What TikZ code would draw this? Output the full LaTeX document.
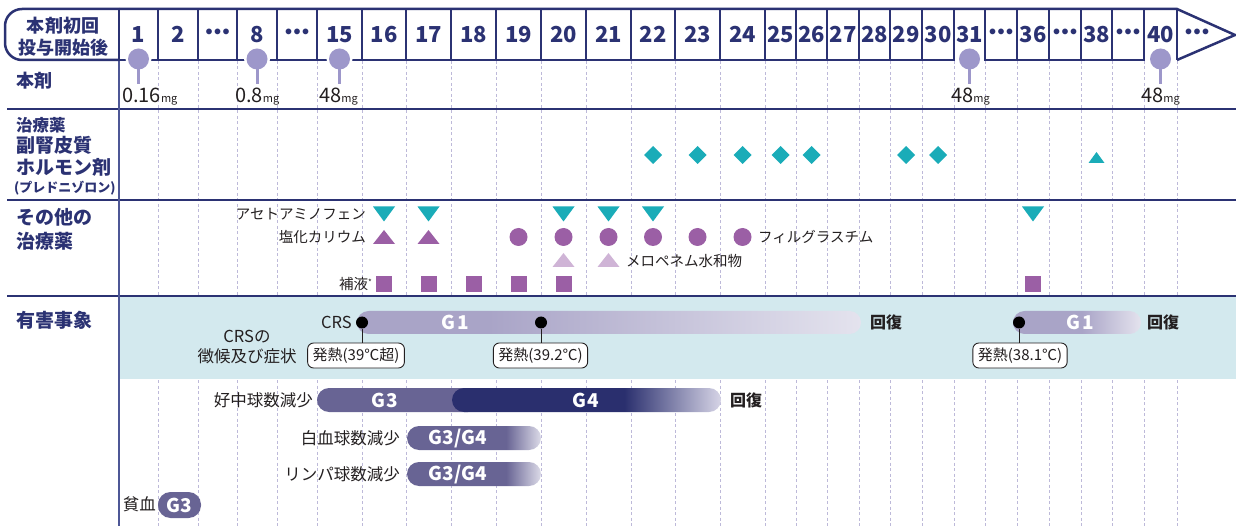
\documentclass[tikz,border=0pt]{standalone}
\usepackage{fontspec}
\setmainfont{Noto Sans CJK JP}
\newfontfamily\lat{Liberation Sans}
\definecolor{navy}{HTML}{2B3273}
\definecolor{cleft}{HTML}{4E5796}
\definecolor{cdash}{HTML}{BDB9D9}
\definecolor{lolli}{HTML}{9D97CA}
\definecolor{cteal}{HTML}{1AACB8}
\definecolor{cpurple}{HTML}{9B5FA5}
\definecolor{clight}{HTML}{CFB4D6}
\definecolor{cband}{HTML}{D3E9EE}
\definecolor{dark}{HTML}{231F20}
\definecolor{gOneA}{HTML}{A9A4C7}
\definecolor{gOneB}{HTML}{E4E3EE}
\definecolor{cgthree}{HTML}{686494}
\definecolor{gThreeB}{HTML}{DCDBE8}
\definecolor{cgfour}{HTML}{2A2F6E}
\definecolor{gFourB}{HTML}{D6D4E6}
\pgfdeclarehorizontalshading{shGone}{100bp}{color(0bp)=(gOneA); color(38bp)=(gOneA); color(75bp)=(gOneB); color(100bp)=(gOneB)}
\pgfdeclarehorizontalshading{shGoneR}{100bp}{color(0bp)=(gOneA); color(52bp)=(gOneA); color(75bp)=(gOneB); color(100bp)=(gOneB)}
\pgfdeclarehorizontalshading{shGfour}{100bp}{color(0bp)=(cgfour); color(57bp)=(cgfour); color(75bp)=(gFourB); color(100bp)=(gFourB)}
\pgfdeclarehorizontalshading{shGthree}{100bp}{color(0bp)=(cgthree); color(62bp)=(cgthree); color(75bp)=(gThreeB); color(100bp)=(gThreeB)}
\newcommand{\fsz}[1]{\fontsize{#1}{#1}\selectfont}
\tikzset{
  hline/.style={draw=navy, line width=2.5},
  hnum/.style={font=\bfseries\fsz{22}, text=navy, inner sep=0, anchor=base},
  hdots/.style={font=\lat\bfseries\fsz{20}, text=navy, inner sep=0},
  lab/.style={font=\bfseries\fsz{19}, text=navy, anchor=west, inner sep=0},
  drug/.style={font=\fsz{14.5}, text=dark, inner sep=0},
  ev/.style={font=\fsz{16.5}, text=dark, inner sep=0},
  rec/.style={font=\bfseries\fsz{16}, text=dark, inner sep=0, anchor=west},
  gtxt/.style={font=\bfseries\fsz{19}, text=white, inner sep=0},
  dose/.style={font=\fsz{20}, text=dark, inner sep=0, anchor=base west},
  fbox/.style={draw=dark, line width=0.9, fill=white, rounded corners=6, minimum height=25, inner xsep=5, inner ysep=0, font=\fsz{15}, text=dark},
  bdot/.style={circle, fill=black, inner sep=0, minimum size=12},
  dashline/.style={draw=cdash, line width=0.8, dash pattern=on 3pt off 2.5pt},
  tdown/.pic={\fill[cteal] (-11,-7.5) -- (11,-7.5) -- (0,7.5) -- cycle;},
  tup/.pic={\fill[cpurple] (-11,7) -- (11,7) -- (0,-7) -- cycle;},
  tlight/.pic={\fill[clight] (-11,7) -- (11,7) -- (0,-7) -- cycle;},
  tsmall/.pic={\fill[cteal] (-8,5.5) -- (8,5.5) -- (0,-5.5) -- cycle;},
  pdot/.pic={\fill[cpurple] (0,0) circle (9);},
  psq/.pic={\fill[cpurple] (-8,-8) rectangle (8,8);},
  pdia/.pic={\fill[cteal] (-9,0) -- (0,-9) -- (9,0) -- (0,9) -- cycle;},
}
\begin{document}
\begin{tikzpicture}[x=1pt,y=-1pt]
\useasboundingbox (0,0) rectangle (1236,526);
% band
\fill[cband] (120,297.5) rectangle (1236,379);
% dashed grid
\foreach \x in {158,198,237,277,317,362,406,451,496,541,586,631,675,720,765,796,827,859,890,922,954,985,1017,1049,1081,1112,1144,1177}
  \draw[dashline] (\x,61) -- (\x,295) (\x,380) -- (\x,526);
% horizontal rules
\draw[navy, line width=2.6] (7,109) -- (1236,109);
\draw[navy, line width=1.8] (7,200) -- (1236,200);
\draw[navy, line width=2.6] (7,296) -- (1236,296);
\draw[cleft, line width=2] (119,60) -- (119,526);
% header outline
\draw[hline, rounded corners=17] (119,9) -- (5,9) -- (5,60) -- (119,60);
\draw[hline, line join=miter] (119,9) -- (1177,9) -- (1235,35) -- (1177,60);
\draw[hline] (118,60) -- (955,60) (984,60) -- (1145,60);
\foreach \x in {119,158,198,237,277,317,362,406,451,496,541,586,631,675,720,765,796,827,859,890,922,954,985,1017,1049,1081,1112,1144,1177}
  \draw[hline] (\x,9) -- (\x,60);
\node[font=\bfseries\fsz{18}, text=navy, inner sep=0] (t1) at (63,26) {本剤初回};
\node[font=\bfseries\fsz{18}, text=navy, inner sep=0] (t2) at (63,47.5) {投与開始後};
\foreach \l/\r/\t [count=\i] in {119/158/1,158/198/2,237/277/8,317/362/15,362/406/16,406/451/17,451/496/18,496/541/19,541/586/20,586/631/21,631/675/22,675/720/23,720/765/24,765/796/25,796/827/26,827/859/27,859/890/28,890/922/29,922/954/30,954/985/31,1017/1049/36,1081/1112/38,1144/1177/40}
  \node[hnum] (h\i) at ({(\l+\r)/2},42.5) {\t};
\foreach \x [count=\i] in {217.5,297,1001,1065,1128,1197}
  \node[hdots] (hd\i) at (\x,34) {•\kern1.5pt•\kern1.5pt•};
% lollipops
\foreach \x in {138.5,257,339.5,969.5,1160.5} {
  \fill[white] (\x,59) circle (13);
  \draw[lolli, line width=3] (\x,59) -- (\x,84);
  \fill[lolli] (\x,59) circle (10.5);
}
\node[dose] (d1) at (122,102.5) {0.16{\fsz{11}mg}};
\node[dose] (d2) at (235,102.5) {0.8{\fsz{11}mg}};
\node[dose] (d3) at (319,102.5) {48{\fsz{11}mg}};
\node[dose] (d4) at (951,102.5) {48{\fsz{11}mg}};
\node[dose] (d5) at (1141,102.5) {48{\fsz{11}mg}};
% left labels
\node[lab, font=\bfseries\fsz{18}] (l1) at (16,81) {本剤};
\node[lab, font=\bfseries\fsz{16.5}] (l2) at (16,125) {治療薬};
\node[lab] (l3) at (16,145) {副腎皮質};
\node[lab] (l4) at (16,167) {ホルモン剤};
\node[lab, font=\bfseries\fsz{13}] (l5) at (14,188) {(プレドニゾロン)};
\node[lab] (l6) at (16,217) {その他の};
\node[lab] (l7) at (16,241) {治療薬};
\node[lab] (l8) at (16,320) {有害事象};
% steroid row
\foreach \x in {653,697.5,742.5,780.5,811.5,906,938}
  \pic at (\x,155) {pdia};
\pic at (1096.5,157.5) {tsmall};
% other drugs
\foreach \x in {384,428.5,563.5,608.5,653,1033}
  \pic at (\x,214) {tdown};
\foreach \x in {384,428.5}
  \pic at (\x,237) {tup};
\foreach \x in {518.5,563.5,608.5,653,697.5,742.5}
  \pic at (\x,237) {pdot};
\foreach \x in {563.5,608.5}
  \pic at (\x,260) {tlight};
\foreach \x in {384,428.5,473.5,518.5,563.5,1033}
  \pic at (\x,284) {psq};
\node[drug, anchor=east] (a1) at (366,214) {アセトアミノフェン};
\node[drug, anchor=east] (a2) at (366,237) {塩化カリウム};
\node[drug, anchor=east] (a3) at (372,284) {補液\raisebox{4pt}{\fsz{8}*}};
\node[drug, anchor=west] (a4) at (758,237) {フィルグラスチム};
\node[drug, anchor=west] (a5) at (626,261) {メロペネム水和物};
% CRS
\path[shading=shGone, rounded corners=11.5] (357,311) rectangle (861,334);
\path[shading=shGoneR, rounded corners=11.5] (1013,311) rectangle (1141,334);
\node[gtxt] (g1a) at (455,322.5) {G\kern2pt1};
\node[gtxt] (g1b) at (1080,322.5) {G\kern2pt1};
\node[ev, anchor=east] (crs) at (352,322.5) {CRS};
\node[ev, align=center, font=\fsz{16.5}] (crsl) at (247,347) {CRSの\\[3pt]徴候及び症状};
\node[bdot] (p1) at (362,322.5) {};
\node[bdot] (p2) at (541,322.5) {};
\node[bdot] (p3) at (1019,322.5) {};
\node[fbox] (b1) at (356,355.5) {発熱(39℃超)};
\node[fbox] (b2) at (540.5,355.5) {発熱(39.2℃)};
\node[fbox] (b3) at (1020,355.5) {発熱(38.1℃)};
\draw[dark, line width=0.9] (p1) -- (p1 |- b1.north);
\draw[dark, line width=0.9] (p2) -- (p2 |- b2.north);
\draw[dark, line width=0.9] (p3) -- (p3 |- b3.north);
\node[rec] (r1) at (870,322.5) {回復};
\node[rec] (r2) at (1147,322.5) {回復};
% blood
\fill[cgthree, rounded corners=12] (317,388) rectangle (480,412);
\path[shading=shGfour, rounded corners=12] (452,388) rectangle (721,412);
\node[gtxt] (n3) at (385,400.5) {G\kern1pt3};
\node[gtxt] (n4) at (586,400.5) {G\kern1pt4};
\node[rec] (r3) at (730,400.5) {回復};
\node[ev, anchor=east] (e1) at (313,400) {好中球数減少};
\path[shading=shGthree, rounded corners=12] (407,426) rectangle (541,450);
\node[gtxt] (w1) at (458,438.5) {G3/G4};
\node[ev, anchor=east] (e2) at (400,438) {白血球数減少};
\path[shading=shGthree, rounded corners=12] (407,462) rectangle (541,486);
\node[gtxt] (w2) at (458,474.5) {G3/G4};
\node[ev, anchor=east] (e3) at (400,474) {リンパ球数減少};
\fill[cgthree, rounded corners=12.5] (158,492) rectangle (201,518);
\node[gtxt] (w3) at (179.5,505.5) {G3};
\node[ev, anchor=east] (e4) at (156,504) {貧血};
\end{tikzpicture}
\end{document}
